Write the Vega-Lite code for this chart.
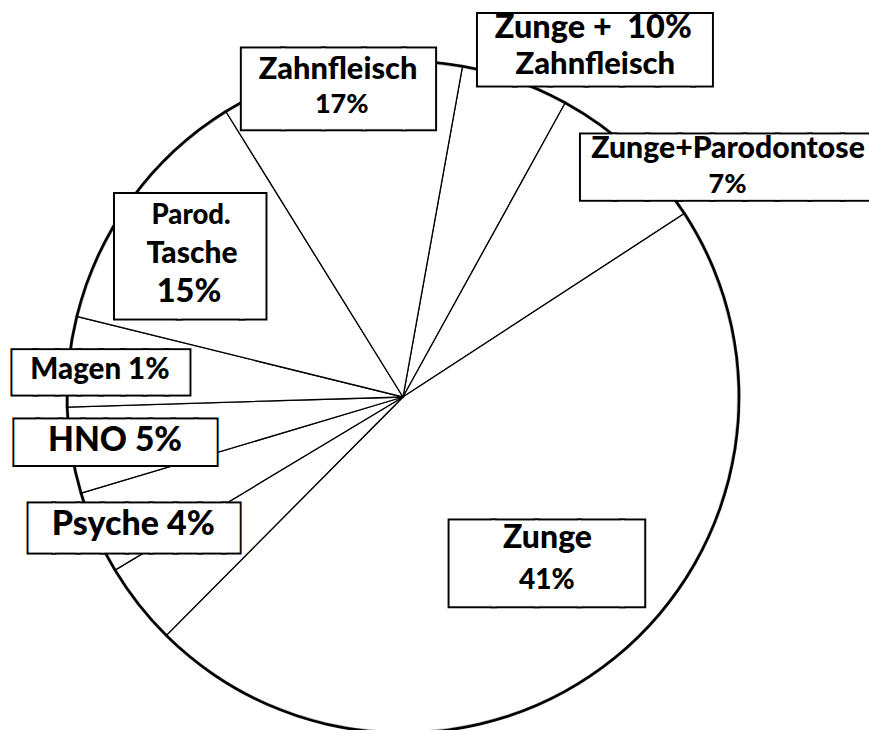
{
  "$schema": "https://vega.github.io/schema/vega-lite/v6.json",
  "autosize": {"type": "none"},
  "padding": {"left": 0, "top": 64, "right": 63, "bottom": 0},
  "width": 806,
  "height": 666,
  "background": "white",
  "config": {"view": {"stroke": null}},
  "data": {"values": [
    {"cat": "Zunge+Zahnfleisch", "share": 5.19},
    {"cat": "Zunge+Parodontose", "share": 7.78},
    {"cat": "Zunge", "share": 46.64},
    {"cat": "Sonstige", "share": 3.94},
    {"cat": "Psyche", "share": 4.00},
    {"cat": "HNO", "share": 4.14},
    {"cat": "Magen", "share": 4.33},
    {"cat": "Parod. Tasche", "share": 12.31},
    {"cat": "Zahnfleisch", "share": 11.67}
  ]},
  "encoding": {
    "theta": {"field": "share", "type": "quantitative", "stack": true, "scale": {"domain": [0, 100], "range": [0.178, 6.4612]}}
  },
  "layer": [
    {"mark": {"type": "arc", "radius": 336, "fill": "white", "stroke": "black", "strokeWidth": 1.3}},
    {"mark": {"type": "arc", "radius": 337.3, "radius2": 334.7, "fill": "black", "stroke": "black", "strokeWidth": 0.3}},

    {"mark": {"type": "text", "radius": 220.5, "thetaOffset": -0.0313, "font": "DejaVu Sans Mono", "fontSize": 71.3, "align": "left", "baseline": "alphabetic", "dx": -96.6, "dy": 24.7, "fill": "black", "stroke": "black", "strokeWidth": 5},
     "encoding": {"text": {"condition": {"test": "datum.cat === 'Zunge'", "value": "████▌"}, "value": ""}}},
    {"mark": {"type": "text", "radius": 220.5, "thetaOffset": -0.0313, "font": "DejaVu Sans Mono", "fontSize": 71.3, "align": "left", "baseline": "alphabetic", "dx": -96.6, "dy": 24.7, "fill": "white", "stroke": "white", "strokeWidth": 1},
     "encoding": {"text": {"condition": {"test": "datum.cat === 'Zunge'", "value": "████▌"}, "value": ""}}},
    {"mark": {"type": "text", "radius": 220.5, "thetaOffset": -0.0313, "font": "Lato", "fontWeight": 900, "fontSize": 32, "align": "center", "baseline": "alphabetic", "dx": 0, "dy": -15.2, "fill": "black"},
     "encoding": {"text": {"condition": {"test": "datum.cat === 'Zunge'", "value": "Zunge"}, "value": ""}}},
    {"mark": {"type": "text", "radius": 220.5, "thetaOffset": -0.0313, "font": "Lato", "fontWeight": 900, "fontSize": 28, "align": "center", "baseline": "alphabetic", "dx": -0.8, "dy": 25.8, "fill": "black"},
     "encoding": {"text": {"condition": {"test": "datum.cat === 'Zunge'", "value": "41%"}, "value": ""}}},

    {"mark": {"type": "text", "radius": 397.9, "thetaOffset": 0.2074, "font": "DejaVu Sans Mono", "fontSize": 54.1, "align": "left", "baseline": "alphabetic", "dx": -146, "dy": 18.7, "fill": "black", "stroke": "black", "strokeWidth": 5},
     "encoding": {"text": {"condition": {"test": "datum.cat === 'Zunge+Parodontose'", "value": "█████████"}, "value": ""}}},
    {"mark": {"type": "text", "radius": 397.9, "thetaOffset": 0.2074, "font": "DejaVu Sans Mono", "fontSize": 54.1, "align": "left", "baseline": "alphabetic", "dx": -146, "dy": 18.7, "fill": "white", "stroke": "white", "strokeWidth": 1},
     "encoding": {"text": {"condition": {"test": "datum.cat === 'Zunge+Parodontose'", "value": "█████████"}, "value": ""}}},
    {"mark": {"type": "text", "radius": 397.9, "thetaOffset": 0.2074, "font": "Lato", "fontWeight": 900, "fontSize": 30.2, "align": "center", "baseline": "alphabetic", "dx": 0, "dy": -9.2, "fill": "black"},
     "encoding": {"text": {"condition": {"test": "datum.cat === 'Zunge+Parodontose'", "value": "Zunge+Parodontose"}, "value": ""}}},
    {"mark": {"type": "text", "radius": 397.9, "thetaOffset": 0.2074, "font": "Lato", "fontWeight": 900, "fontSize": 27, "align": "center", "baseline": "alphabetic", "dx": -0.5, "dy": 25.8, "fill": "black"},
     "encoding": {"text": {"condition": {"test": "datum.cat === 'Zunge+Parodontose'", "value": "7%"}, "value": ""}}},

    {"mark": {"type": "text", "radius": 397.3, "thetaOffset": 0.1642, "font": "DejaVu Sans Mono", "fontSize": 59.3, "align": "left", "baseline": "alphabetic", "dx": -116, "dy": 20.5, "fill": "black", "stroke": "black", "strokeWidth": 5},
     "encoding": {"text": {"condition": {"test": "datum.cat === 'Zunge+Zahnfleisch'", "value": "██████▌"}, "value": ""}}},
    {"mark": {"type": "text", "radius": 397.3, "thetaOffset": 0.1642, "font": "DejaVu Sans Mono", "fontSize": 59.3, "align": "left", "baseline": "alphabetic", "dx": -116, "dy": 20.5, "fill": "white", "stroke": "white", "strokeWidth": 1},
     "encoding": {"text": {"condition": {"test": "datum.cat === 'Zunge+Zahnfleisch'", "value": "██████▌"}, "value": ""}}},
    {"mark": {"type": "text", "radius": 397.3, "thetaOffset": 0.1642, "font": "Lato", "fontWeight": 900, "fontSize": 32.5, "align": "center", "baseline": "alphabetic", "dx": -2, "dy": -11, "fill": "black"},
     "encoding": {"text": {"condition": {"test": "datum.cat === 'Zunge+Zahnfleisch'", "value": "Zunge +\u00a0 10%"}, "value": ""}}},
    {"mark": {"type": "text", "radius": 397.3, "thetaOffset": 0.1642, "font": "Lato", "fontWeight": 900, "fontSize": 31, "align": "center", "baseline": "alphabetic", "dx": 0, "dy": 24.7, "fill": "black"},
     "encoding": {"text": {"condition": {"test": "datum.cat === 'Zunge+Zahnfleisch'", "value": "Zahnfleisch"}, "value": ""}}},

    {"mark": {"type": "text", "radius": 314.8, "thetaOffset": -0.017, "font": "DejaVu Sans Mono", "fontSize": 67.0, "align": "left", "baseline": "alphabetic", "dx": -95.8, "dy": 23.2, "fill": "black", "stroke": "black", "strokeWidth": 5},
     "encoding": {"text": {"condition": {"test": "datum.cat === 'Zahnfleisch'", "value": "████▊"}, "value": ""}}},
    {"mark": {"type": "text", "radius": 314.8, "thetaOffset": -0.017, "font": "DejaVu Sans Mono", "fontSize": 67.0, "align": "left", "baseline": "alphabetic", "dx": -95.8, "dy": 23.2, "fill": "white", "stroke": "white", "strokeWidth": 1},
     "encoding": {"text": {"condition": {"test": "datum.cat === 'Zahnfleisch'", "value": "████▊"}, "value": ""}}},
    {"mark": {"type": "text", "radius": 314.8, "thetaOffset": -0.017, "font": "Lato", "fontWeight": 900, "fontSize": 30.8, "align": "center", "baseline": "alphabetic", "dx": -0.7, "dy": -9.8, "fill": "black"},
     "encoding": {"text": {"condition": {"test": "datum.cat === 'Zahnfleisch'", "value": "Zahnfleisch"}, "value": ""}}},
    {"mark": {"type": "text", "radius": 314.8, "thetaOffset": -0.017, "font": "Lato", "fontWeight": 900, "fontSize": 27, "align": "center", "baseline": "alphabetic", "dx": 3, "dy": 24.5, "fill": "black"},
     "encoding": {"text": {"condition": {"test": "datum.cat === 'Zahnfleisch'", "value": "17%"}, "value": ""}}},

    {"mark": {"type": "text", "radius": 254.7, "thetaOffset": -0.0412, "font": "DejaVu Sans Mono", "fontSize": 104, "align": "left", "baseline": "alphabetic", "dx": -74.4, "dy": 36.0, "fill": "black", "stroke": "black", "strokeWidth": 5},
     "encoding": {"text": {"condition": {"test": "datum.cat === 'Parod. Tasche'", "value": "██▍"}, "value": ""}}},
    {"mark": {"type": "text", "radius": 254.7, "thetaOffset": -0.0412, "font": "DejaVu Sans Mono", "fontSize": 104, "align": "left", "baseline": "alphabetic", "dx": -74.4, "dy": 36.0, "fill": "white", "stroke": "white", "strokeWidth": 1},
     "encoding": {"text": {"condition": {"test": "datum.cat === 'Parod. Tasche'", "value": "██▍"}, "value": ""}}},
    {"mark": {"type": "text", "radius": 254.7, "thetaOffset": -0.0412, "font": "Lato", "fontWeight": 900, "fontSize": 27.5, "align": "center", "baseline": "alphabetic", "dx": 0, "dy": -31.8, "fill": "black"},
     "encoding": {"text": {"condition": {"test": "datum.cat === 'Parod. Tasche'", "value": "Parod."}, "value": ""}}},
    {"mark": {"type": "text", "radius": 254.7, "thetaOffset": -0.0412, "font": "Lato", "fontWeight": 900, "fontSize": 30, "align": "center", "baseline": "alphabetic", "dx": 1, "dy": 7.5, "fill": "black"},
     "encoding": {"text": {"condition": {"test": "datum.cat === 'Parod. Tasche'", "value": "Tasche"}, "value": ""}}},
    {"mark": {"type": "text", "radius": 254.7, "thetaOffset": -0.0412, "font": "Lato", "fontWeight": 900, "fontSize": 32.5, "align": "center", "baseline": "alphabetic", "dx": -2, "dy": 45.9, "fill": "black"},
     "encoding": {"text": {"condition": {"test": "datum.cat === 'Parod. Tasche'", "value": "15%"}, "value": ""}}},

    {"mark": {"type": "text", "radius": 302.8, "thetaOffset": -0.0251, "font": "DejaVu Sans Mono", "fontSize": 36.4, "align": "left", "baseline": "alphabetic", "dx": -87.7, "dy": 12.6, "fill": "black", "stroke": "black", "strokeWidth": 5},
     "encoding": {"text": {"condition": {"test": "datum.cat === 'Magen'", "value": "████████"}, "value": ""}}},
    {"mark": {"type": "text", "radius": 302.8, "thetaOffset": -0.0251, "font": "DejaVu Sans Mono", "fontSize": 36.4, "align": "left", "baseline": "alphabetic", "dx": -87.7, "dy": 12.6, "fill": "white", "stroke": "white", "strokeWidth": 1},
     "encoding": {"text": {"condition": {"test": "datum.cat === 'Magen'", "value": "████████"}, "value": ""}}},
    {"mark": {"type": "text", "radius": 302.8, "thetaOffset": -0.0251, "font": "Lato", "fontWeight": 900, "fontSize": 29.5, "align": "center", "baseline": "alphabetic", "dx": -1.2, "dy": 6.8, "fill": "black"},
     "encoding": {"text": {"condition": {"test": "datum.cat === 'Magen'", "value": "Magen 1%"}, "value": ""}}},

    {"mark": {"type": "text", "radius": 291.0, "thetaOffset": 0.0042, "font": "DejaVu Sans Mono", "fontSize": 37.5, "align": "left", "baseline": "alphabetic", "dx": -100.2, "dy": 13.0, "fill": "black", "stroke": "black", "strokeWidth": 5},
     "encoding": {"text": {"condition": {"test": "datum.cat === 'HNO'", "value": "████████▉"}, "value": ""}}},
    {"mark": {"type": "text", "radius": 291.0, "thetaOffset": 0.0042, "font": "DejaVu Sans Mono", "fontSize": 37.5, "align": "left", "baseline": "alphabetic", "dx": -100.2, "dy": 13.0, "fill": "white", "stroke": "white", "strokeWidth": 1},
     "encoding": {"text": {"condition": {"test": "datum.cat === 'HNO'", "value": "████████▉"}, "value": ""}}},
    {"mark": {"type": "text", "radius": 291.0, "thetaOffset": 0.0042, "font": "Lato", "fontWeight": 900, "fontSize": 33.5, "align": "center", "baseline": "alphabetic", "dx": -0.5, "dy": 8.5, "fill": "black"},
     "encoding": {"text": {"condition": {"test": "datum.cat === 'HNO'", "value": "HNO 5%"}, "value": ""}}},

    {"mark": {"type": "text", "radius": 298.9, "thetaOffset": -0.0372, "font": "DejaVu Sans Mono", "fontSize": 40.4, "align": "left", "baseline": "alphabetic", "dx": -104.9, "dy": 14.0, "fill": "black", "stroke": "black", "strokeWidth": 5},
     "encoding": {"text": {"condition": {"test": "datum.cat === 'Psyche'", "value": "████████▋"}, "value": ""}}},
    {"mark": {"type": "text", "radius": 298.9, "thetaOffset": -0.0372, "font": "DejaVu Sans Mono", "fontSize": 40.4, "align": "left", "baseline": "alphabetic", "dx": -104.9, "dy": 14.0, "fill": "white", "stroke": "white", "strokeWidth": 1},
     "encoding": {"text": {"condition": {"test": "datum.cat === 'Psyche'", "value": "████████▋"}, "value": ""}}},
    {"mark": {"type": "text", "radius": 298.9, "thetaOffset": -0.0372, "font": "Lato", "fontWeight": 900, "fontSize": 34, "align": "center", "baseline": "alphabetic", "dx": -0.9, "dy": 7.2, "fill": "black"},
     "encoding": {"text": {"condition": {"test": "datum.cat === 'Psyche'", "value": "Psyche 4%"}, "value": ""}}}
  ]
}
